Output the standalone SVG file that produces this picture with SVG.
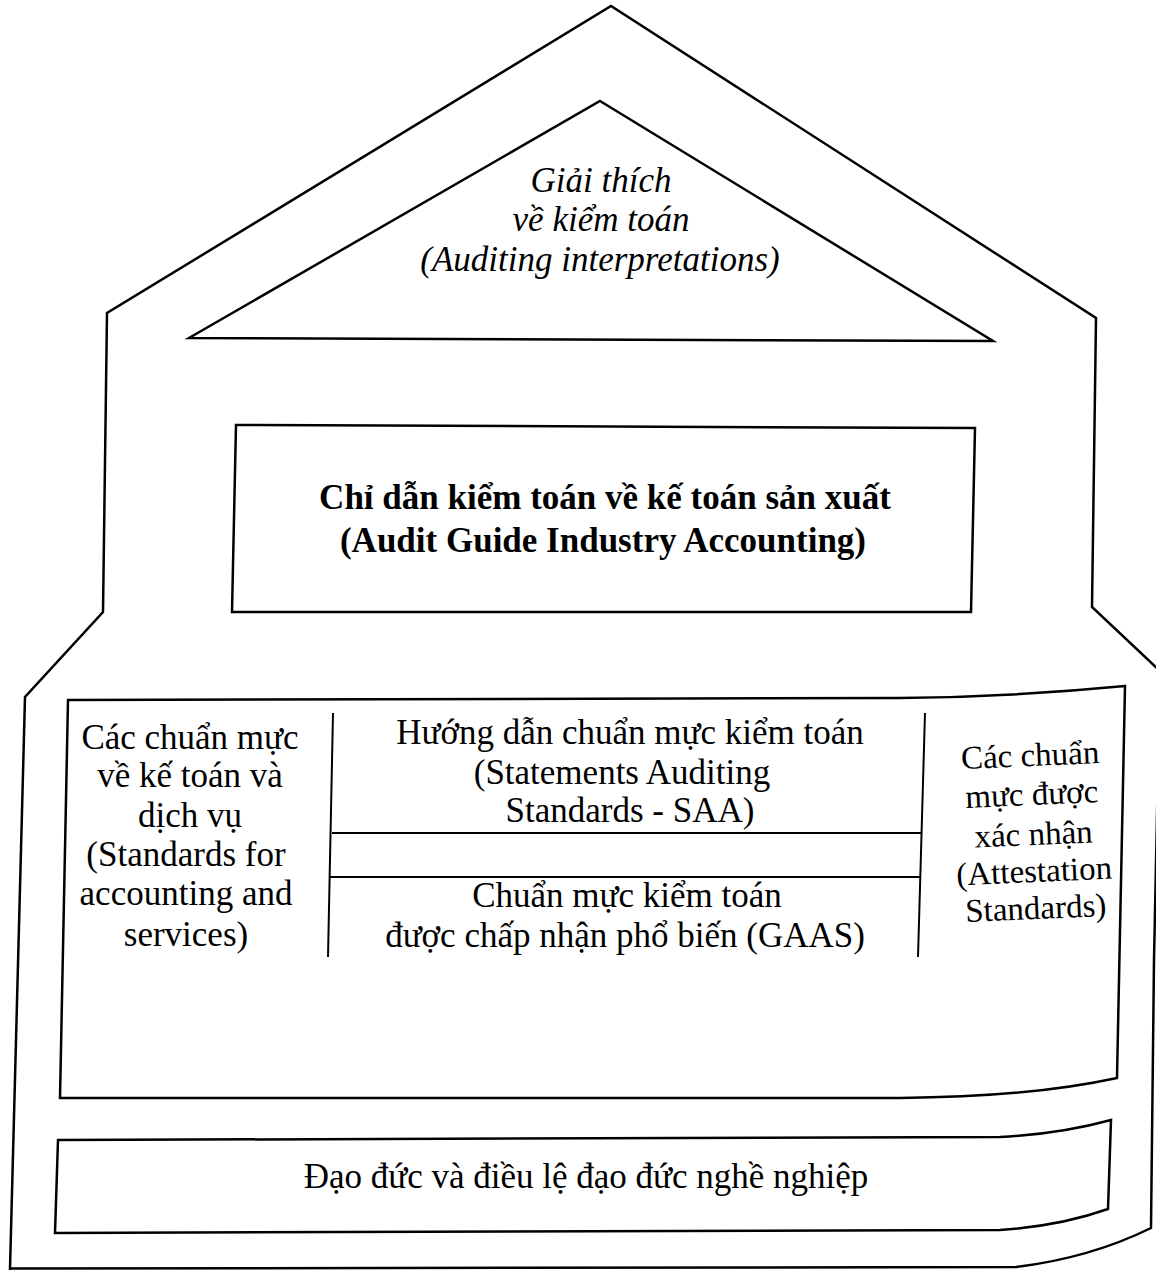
<svg xmlns="http://www.w3.org/2000/svg" width="1156" height="1270" viewBox="0 0 1156 1270">
<style>
.ln{fill:none;stroke:#000;stroke-width:2.5;stroke-linejoin:miter;stroke-linecap:square}
.thin{fill:none;stroke:#000;stroke-width:2}
.t{font-family:"Liberation Serif","Times New Roman",serif;font-size:35px;fill:#000;text-anchor:middle}
.it{font-style:italic}
.b{font-weight:bold}
.r{font-size:33px}
</style>
<rect width="1156" height="1270" fill="#fff"/>
<g id="house-outline">
<path class="ln" d="M10,1269 L25,697 L103,612 L107,313 L611,6 L1096,318 L1092,607 L1160,671 L1154,960 L1151,1228 Q1090,1258 1016,1267 L10,1268.5"/>
</g>
<g id="auditing-interpretations">
<path class="ln" d="M600,101 L993,341 L189,338 Z"/>
<text class="t it" x="601" y="192">Giải thích</text>
<text class="t it" x="601" y="231">về kiểm toán</text>
<text class="t it" x="600" y="271">(Auditing interpretations)</text>
</g>
<g id="audit-guide">
<path class="ln" d="M236,425 L975,428 L971,612 L232,612 Z"/>
<text class="t b" x="605" y="509">Chỉ dẫn kiểm toán về kế toán sản xuất</text>
<text class="t b" x="603" y="552">(Audit Guide Industry Accounting)</text>
</g>
<g id="standards-block">
<path class="ln" d="M68,700 L900,698 Q1010,697 1125,686 L1117,1078 Q1030,1097 900,1098 L60,1098 Z"/>
<path class="thin" d="M333,713 L328,957 M925,713 L918,957 M332,833 L922,833 M330,877 L920,877"/>
<g id="accounting-services">
<text class="t" x="190" y="749">Các chuẩn mực</text>
<text class="t" x="190" y="787">về kế toán và</text>
<text class="t" x="190" y="827">dịch vụ</text>
<text class="t" x="186" y="866">(Standards for</text>
<text class="t" x="186" y="905">accounting and</text>
<text class="t" x="186" y="946">services)</text>
</g>
<g id="saa">
<text class="t" x="630" y="744">Hướng dẫn chuẩn mực kiểm toán</text>
<text class="t" x="622" y="784">(Statements Auditing</text>
<text class="t" x="630" y="822">Standards - SAA)</text>
</g>
<g id="gaas">
<text class="t" x="627" y="907">Chuẩn mực kiểm toán</text>
<text class="t" x="625" y="947">được chấp nhận phổ biến (GAAS)</text>
</g>
<g id="attestation" transform="rotate(-2.5 1034 845)">
<text class="t r" x="1034" y="766">Các chuẩn</text>
<text class="t r" x="1034" y="805">mực được</text>
<text class="t r" x="1034" y="845">xác nhận</text>
<text class="t r" x="1033" y="882">(Attestation</text>
<text class="t r" x="1033" y="919">Standards)</text>
</g>
</g>
<g id="ethics">
<path class="ln" d="M58,1140 L1000,1137 Q1060,1134 1111,1120 L1108,1209 Q1060,1226 1000,1230 L55,1233 Z"/>
<text class="t" x="586" y="1188">Đạo đức và điều lệ đạo đức nghề nghiệp</text>
</g>
<g id="connectors"/>
</svg>
